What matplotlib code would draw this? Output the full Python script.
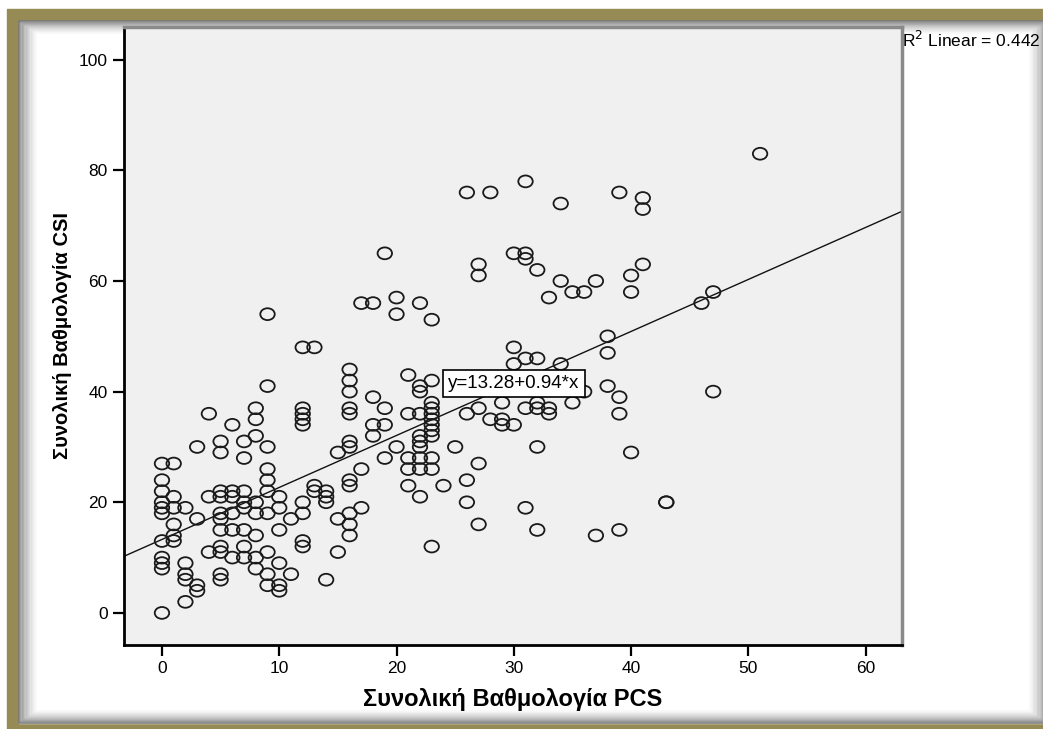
import matplotlib.pyplot as plt
from matplotlib.patches import Rectangle
from matplotlib.path import Path
from matplotlib.transforms import Affine2D

# PCS total (x) and CSI total (y) per respondent
pcs_total = [
    0, 0, 0, 0, 0, 0, 0, 0, 0, 0, 0,
    1, 1, 1, 1, 1, 1,
    2, 2, 2, 2, 2,
    3, 3, 3, 3,
    4, 4, 4,
    5, 5, 5, 5, 5, 5, 5, 5, 5, 5, 5,
    6, 6, 6, 6, 6, 6,
    7, 7, 7, 7, 7, 7, 7, 7,
    8, 8, 8, 8, 8, 8, 8, 8,
    9, 9, 9, 9, 9, 9, 9, 9, 9, 9,
    10, 10, 10, 10, 10, 10,
    11, 11,
    12, 12, 12, 12, 12, 12, 12, 12, 12,
    13, 13, 13,
    14, 14, 14, 14,
    15, 15, 15,
    16, 16, 16, 16, 16, 16, 16, 16, 16, 16, 16, 16,
    17, 17, 17,
    18, 18, 18, 18,
    19, 19, 19, 19,
    20, 20, 20,
    21, 21, 21, 21, 21,
    22, 22, 22, 22, 22, 22, 22, 22, 22, 22,
    23, 23, 23, 23, 23, 23, 23, 23, 23, 23, 23, 23,
    24, 25,
    26, 26, 26, 26,
    27, 27, 27, 27, 27,
    28, 28,
    29, 29, 29,
    30, 30, 30, 30,
    31, 31, 31, 31, 31, 31,
    32, 32, 32, 32, 32, 32,
    33, 33, 33,
    34, 34, 34,
    35, 35,
    36, 36,
    37, 37,
    38, 38, 38,
    39, 39, 39, 39,
    40, 40, 40,
    41, 41, 41,
    43, 43, 46, 47, 47, 51,
]
csi_total = [
    27, 24, 22, 20, 19, 18, 13, 10, 9, 8, 0,
    27, 21, 19, 16, 14, 13,
    19, 9, 7, 6, 2,
    30, 17, 5, 4,
    36, 21, 11,
    31, 29, 22, 21, 18, 17, 15, 12, 11, 7, 6,
    34, 22, 21, 18, 15, 10,
    31, 28, 22, 20, 19, 15, 12, 10,
    37, 35, 32, 20, 18, 14, 10, 8,
    54, 41, 30, 26, 24, 22, 18, 11, 7, 5,
    21, 19, 15, 9, 5, 4,
    17, 7,
    48, 37, 36, 35, 34, 20, 18, 13, 12,
    48, 23, 22,
    22, 21, 20, 6,
    29, 17, 11,
    44, 42, 40, 37, 36, 31, 30, 24, 23, 18, 16, 14,
    56, 26, 19,
    56, 39, 34, 32,
    65, 37, 34, 28,
    57, 54, 30,
    43, 36, 28, 26, 23,
    56, 41, 40, 36, 32, 31, 30, 28, 26, 21,
    53, 42, 38, 37, 36, 35, 34, 33, 32, 28, 26, 12,
    23, 30,
    76, 36, 24, 20,
    63, 61, 37, 27, 16,
    76, 35,
    38, 35, 34,
    65, 48, 45, 34,
    78, 65, 64, 46, 37, 19,
    62, 46, 38, 37, 30, 15,
    57, 37, 36,
    74, 60, 45,
    58, 38,
    58, 40,
    60, 14,
    50, 47, 41,
    76, 39, 36, 15,
    61, 58, 29,
    75, 73, 63,
    20, 20, 56, 58, 40, 83,
]

intercept = 13.28
slope = 0.94
r_squared = 0.442

x_ticks = [0, 10, 20, 30, 40, 50, 60]
y_ticks = [0, 20, 40, 60, 80, 100]

W, H = 1043, 729
fig = plt.figure(figsize=(W / 100, H / 100), dpi=100)

# picture frame: olive border with a soft inner shadow
bg = fig.add_axes([0, 0, 1, 1], zorder=0)
bg.set_xlim(0, W)
bg.set_ylim(H, 0)
bg.axis('off')
bg.add_patch(Rectangle((7, 9), 1100, 800, color='#968b55'))
bg.add_patch(Rectangle((19, 21), 1028, 702, color='white'))
steps = 14
for i in range(steps):
    g = 0.45 + 0.55 * (i / steps) ** 0.7
    bg.add_patch(Rectangle((19 + i * 1.3, 21 + i * 0.9), 1028 - 2 * i * 1.3, 702 - 2 * i * 0.9,
                           fill=False, edgecolor=(g, g, g), lw=1.1))

# main plot, placed in pixels like the SPSS output
left, right, top, bottom = 123.5, 902, 26.5, 645
ax = fig.add_axes([left / W, 1 - bottom / H, (right - left) / W, (bottom - top) / H], zorder=1)
ax.set_facecolor('#f0f0f0')

# SPSS circles come out slightly squashed in the exported picture
ellipse = Path.unit_circle().transformed(Affine2D().scale(1.0, 0.82))
ax.scatter(pcs_total, csi_total, s=108, marker=ellipse, facecolors='none',
           edgecolors='#1a1a1a', linewidths=1.3, zorder=3)

xmin, xmax = -3.28, 63.1
ax.set_xlim(xmin, xmax)
ax.set_ylim(-5.8, 106)
ax.plot([xmin, xmax], [intercept + slope * xmin, intercept + slope * xmax], color='#111111', lw=1.0, zorder=2)

ax.text(30, intercept + slope * 30, 'y=%.2f+%.2f*x' % (intercept, slope),
        ha='center', va='center', fontsize=13.5, family='Liberation Sans', zorder=5,
        bbox=dict(boxstyle='square,pad=0.28', facecolor='white', edgecolor='black', lw=1.2))

ax.set_xticks(x_ticks)
ax.set_yticks(y_ticks)
ax.tick_params(direction='out', length=8, width=1.6, labelsize=12.5, colors='black')
for lab in ax.get_xticklabels() + ax.get_yticklabels():
    lab.set_family('Liberation Sans')

for s in ['left', 'bottom']:
    ax.spines[s].set_linewidth(2)
    ax.spines[s].set_color('black')
for s in ['top', 'right']:
    ax.spines[s].set_linewidth(2.5)
    ax.spines[s].set_color('#8a8a8a')

ax.set_xlabel('Συνολική Βαθμολογία PCS', fontsize=17, fontweight='bold', family='Liberation Sans', labelpad=9)
ax.set_ylabel('Συνολική Βαθμολογία CSI', fontsize=14.5, fontweight='bold', family='Liberation Sans', labelpad=5)

fig.text(right / W, 1 - 40 / H, 'R$^2$ Linear = %.3f' % r_squared, ha='left', va='center',
         fontsize=12.5, family='Liberation Sans')

fig.savefig('out.png', dpi=100)
